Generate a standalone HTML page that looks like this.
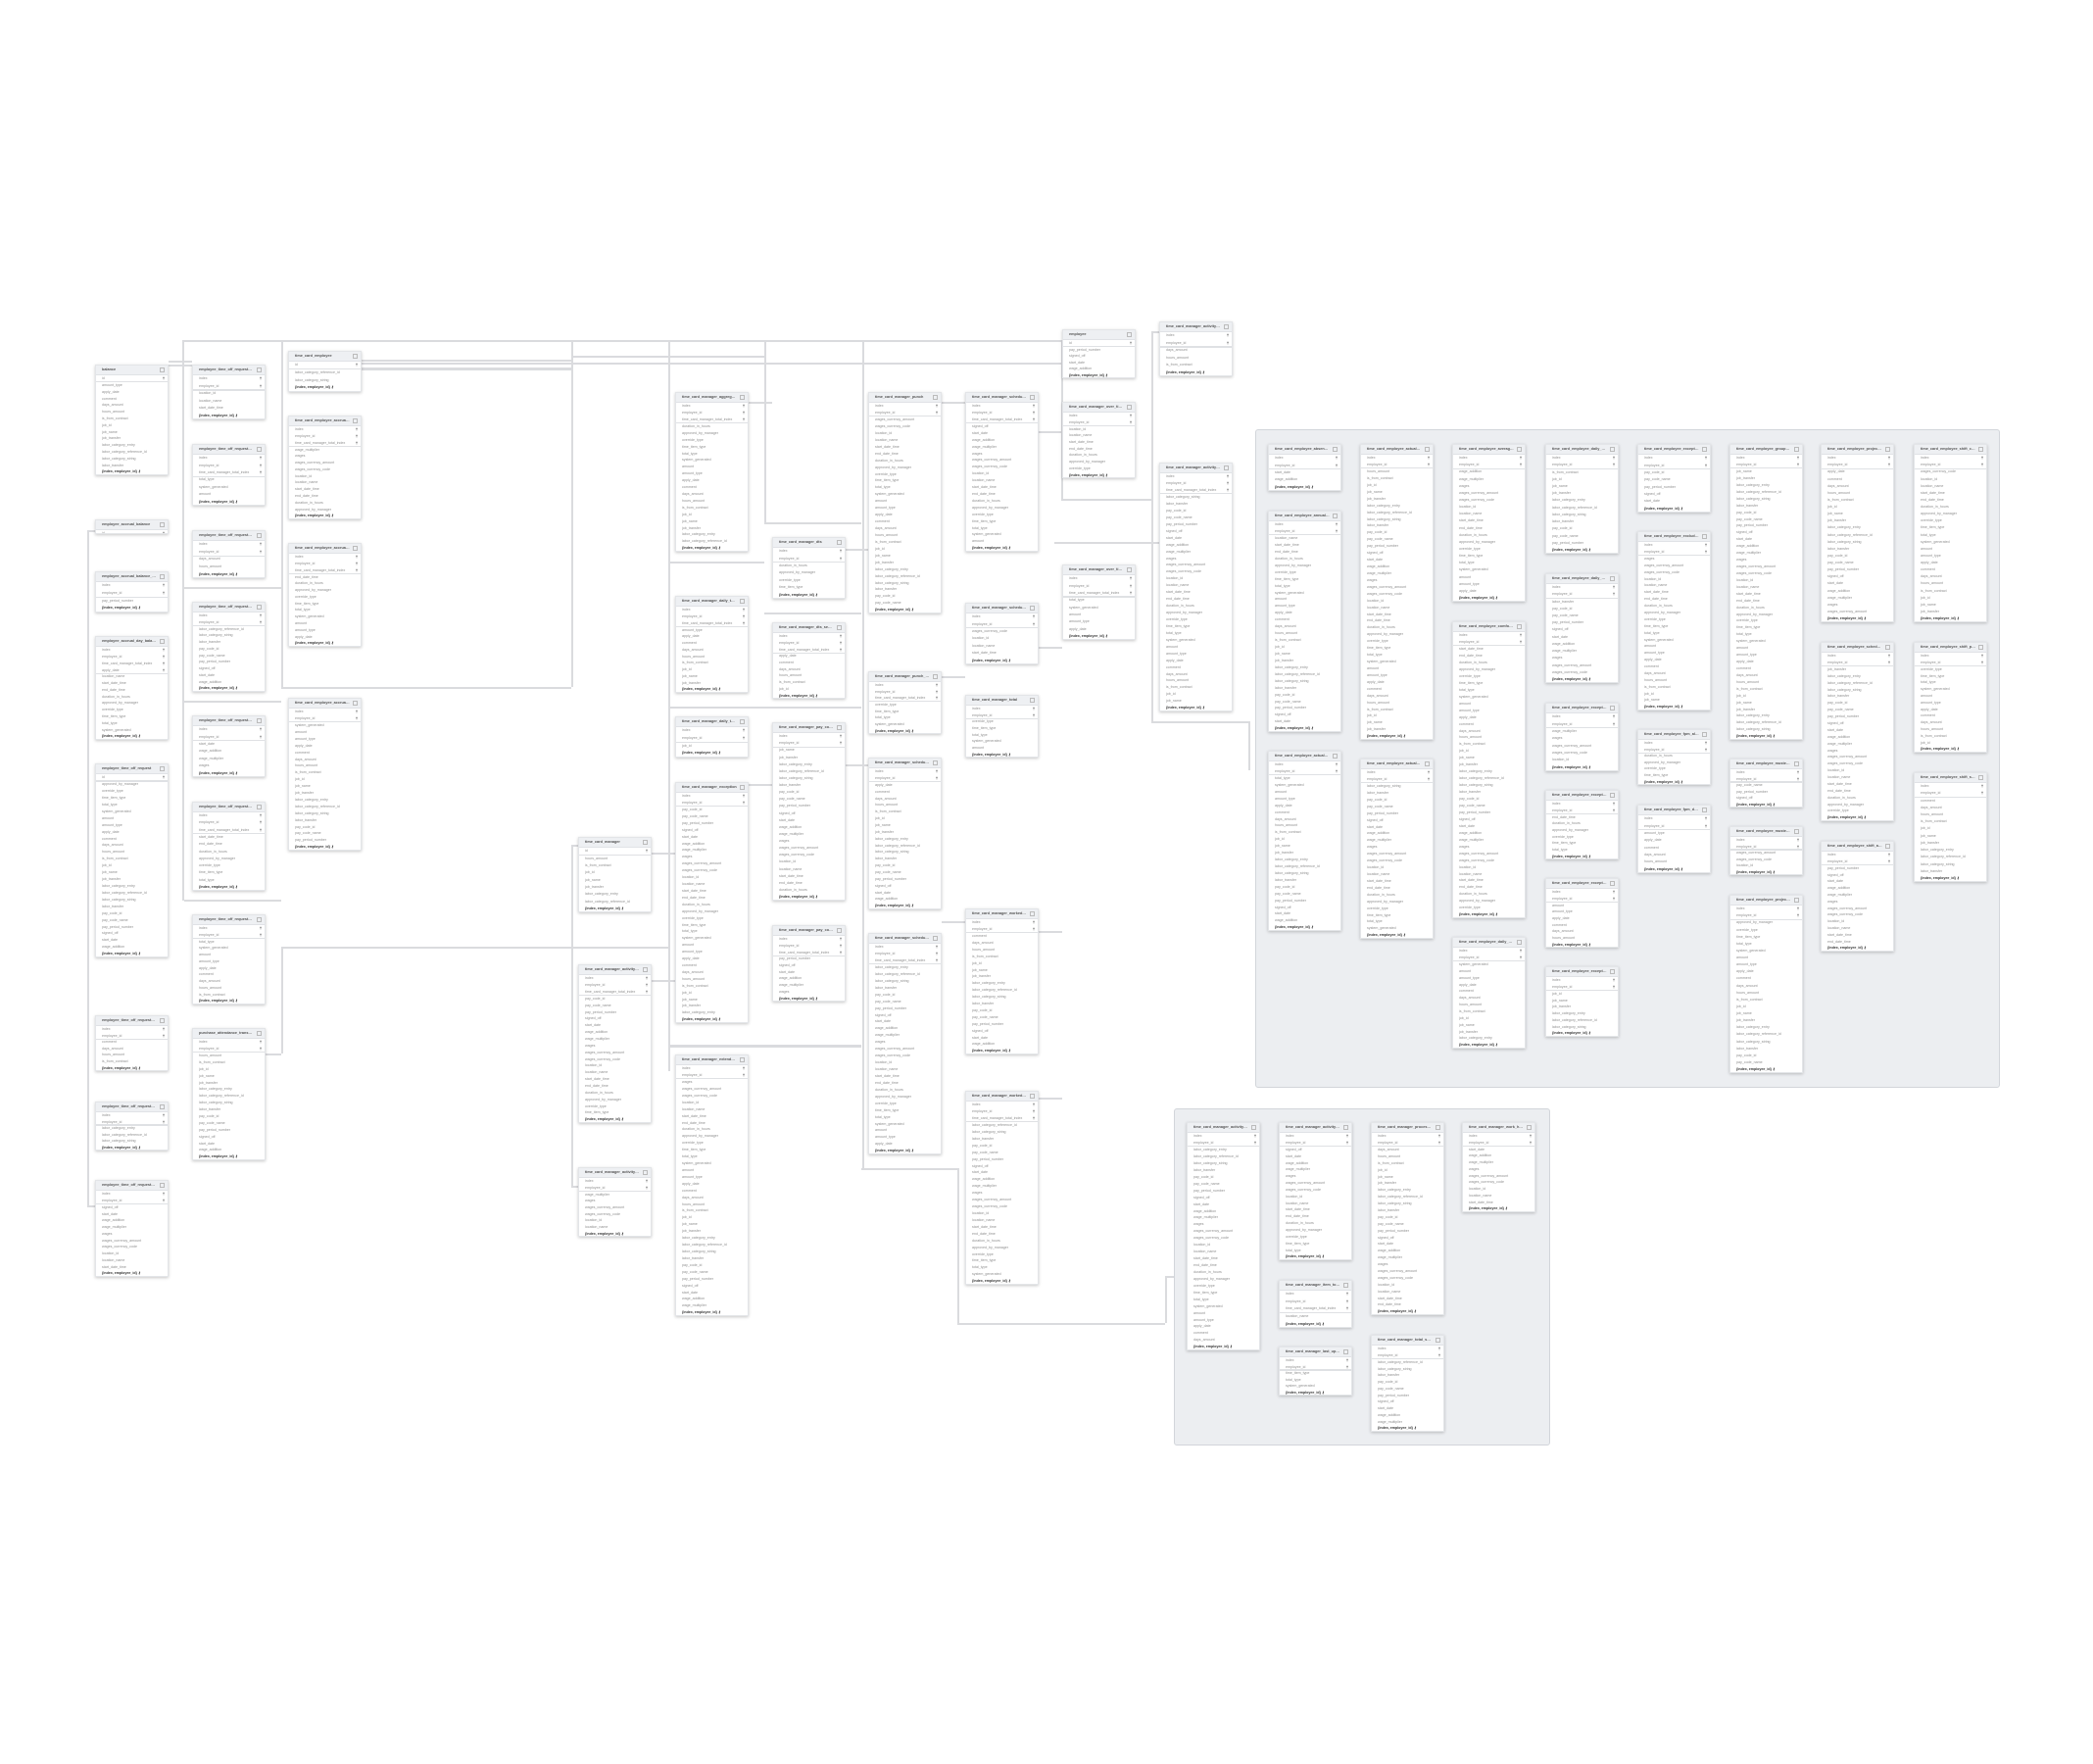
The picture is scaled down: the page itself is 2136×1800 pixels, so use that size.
<!DOCTYPE html>
<html><head><meta charset="utf-8">
<style>
html,body{margin:0;padding:0;background:#fff;}
body{width:2136px;height:1800px;position:relative;overflow:hidden;font-family:"Liberation Sans",sans-serif;}
.cont{position:absolute;background:#eceef1;border:1px solid #d2d5da;border-radius:3px;}
.ln{position:absolute;background:#dadbde;}
.t{position:absolute;background:#fff;box-shadow:0 1px 3px rgba(0,0,0,0.22);border:1px solid #e3e5e8;box-sizing:border-box;overflow:hidden;}
.hd{position:absolute;left:0;right:0;top:0;height:9px;background:#eef0f3;border-bottom:1px solid #e0e2e6;}
.hd span{position:absolute;left:6px;right:11px;top:2.4px;font-size:3.8px;font-weight:bold;color:#555;white-space:nowrap;overflow:hidden;text-overflow:ellipsis;}
.ic{position:absolute;right:3px;top:1.5px;width:5px;height:5px;border:0.8px solid #bbb;box-sizing:border-box;}
.r{position:absolute;left:6px;right:3px;font-size:3.6px;color:#909090;white-space:nowrap;overflow:hidden;}
.r b{position:absolute;right:0;top:0;color:#222;font-weight:bold;}
.r.ix{color:#333;font-weight:bold;}
.dv{position:absolute;left:0;right:0;height:1.2px;background:#dfe1e4;}
</style></head><body>
<div class="cont" style="left:1281px;top:438px;width:758px;height:670px"></div>
<div class="cont" style="left:1198px;top:1131px;width:382px;height:342px"></div>
<div id="lines"></div>
<div id="tables"></div>
<script>
var L=[
[186,347,897,2],[186,347,2,572],[287,347,2,354],[583,347,2,354],[682,347,2,746],[780,347,2,186],[880,347,2,846],[1083,347,2,163],
[583,363,197,2],[369,367,214,2],[369,370,714,2],[369,375,214,3],[172,368,24,2],[172,372,24,2],
[188,599,99,2],[188,715,99,2],[188,918,99,2],[287,701,296,2],[89,541,2,690],[89,541,8,2],[89,1230,8,2],
[287,966,395,2],[287,966,2,109],[271,1075,16,2],[583,862,2,348],[583,862,7,2],[583,1210,7,2],
[780,533,99,2],[682,573,98,2],[780,625,99,2],[682,721,197,2],[682,1066,197,3],[879,1192,98,2],[977,1192,2,158],[977,1350,212,2],[1189,1302,2,48],[1189,1302,9,2],
[1083,509,92,2],[1175,338,2,398],[1175,338,8,2],[1175,736,99,2],[1274,736,2,50],[1076,553,107,2],[1060,440,24,2],[1060,660,24,2],
[764,410,24,2],[862,560,24,2],[961,410,24,2],[961,690,24,2],[764,800,24,2],[862,780,24,2],[961,940,24,2],[665,870,24,2],[665,1000,24,2],[1060,950,24,2],[1060,1120,24,2]
];
var h='';L.forEach(function(a){h+='<div class="ln" style="left:'+a[0]+'px;top:'+a[1]+'px;width:'+a[2]+'px;height:'+a[3]+'px"></div>';});
document.getElementById('lines').innerHTML=h;
var T=[
["balance",97,372,485,1],["employee_accrual_balance",97,530,545,1],["employee_accrual_balance_balance",97,583,625,2],["employee_accrual_day_balance",97,649,755,4],["employee_time_off_request",97,779,977,1],["employee_time_off_request_approval_...",97,1036,1093,2],["employee_time_off_request_approval_...",97,1124,1174,2],["employee_time_off_request_approval_...",97,1204,1303,2],
["employee_time_off_request_comment",196,372,428,2],["employee_time_off_request_comment...",196,453,516,3],["employee_time_off_request_cost_sub...",196,541,590,2],["employee_time_off_request_period",196,614,706,2],["employee_time_off_request_position_...",196,730,793,2],["employee_time_off_request_position_...",196,818,909,3],["employee_time_off_request_request_s...",196,933,1025,2],["purchase_attendance_transaction",196,1049,1184,2],
["time_card_employee",294,358,400,1],["time_card_employee_accrual_daily_ac...",294,424,530,3],["time_card_employee_accrual_reportin...",294,554,660,3],["time_card_employee_accrual_summary",294,712,868,2],
["time_card_manager",590,854,931,1],["time_card_manager_activity_aggregat...",590,984,1146,3],["time_card_manager_activity_total",590,1191,1262,2],
["time_card_manager_aggregated_total",689,400,563,3],["time_card_manager_daily_total_hours...",689,608,707,3],["time_card_manager_daily_total_summ...",689,731,773,2],["time_card_manager_exception",689,798,1044,2],["time_card_manager_extended_excepti...",689,1076,1343,2],
["time_card_manager_dts",788,548,611,2],["time_card_manager_dts_segment",788,635,713,3],["time_card_manager_pay_code_edit",788,737,919,2],["time_card_manager_pay_code_edit_so...",788,944,1022,3],
["time_card_manager_punch",886,400,626,2],["time_card_manager_punch_comment_...",886,685,749,3],["time_card_manager_schedule_shift",886,773,928,2],["time_card_manager_schedule_shift_s...",886,952,1178,3],
["time_card_manager_scheduled_aggre...",985,400,563,3],["time_card_manager_scheduled_total",985,615,678,2],["time_card_manager_total",985,709,773,2],["time_card_manager_worked_shift",985,927,1076,2],["time_card_manager_worked_shift_an...",985,1113,1311,3],
["employee",1084,336,386,1],["time_card_manager_over_time_info",1084,410,488,2],["time_card_manager_over_time_info_s...",1084,576,653,3],
["time_card_manager_activity_shift",1183,328,384,2],["time_card_manager_activity_shift_an...",1183,472,726,3],
["time_card_employee_absence_excepti...",1294,453,501,2],["time_card_employee_annual_transacti...",1294,521,747,2],["time_card_employee_actual_total",1294,766,950,2],
["time_card_employee_actual_total_hour...",1388,453,755,2],["time_card_employee_actual_total_part...",1388,774,958,2],
["time_card_employee_averaging",1482,453,614,2],["time_card_employee_comfort_total",1482,634,937,2],["time_card_employee_daily_actual_time...",1482,956,1070,2],
["time_card_employee_daily_projected_t...",1577,453,565,2],["time_card_employee_daily_scheduled_...",1577,585,697,2],["time_card_employee_exception_count",1577,717,787,2],["time_card_employee_exception_count...",1577,806,877,2],["time_card_employee_exception_count...",1577,896,967,2],["time_card_employee_exception_count...",1577,986,1058,2],
["time_card_employee_exception_count...",1671,453,523,2],["time_card_employee_exclude_consoli...",1671,542,725,2],["time_card_employee_fpm_all_data",1671,744,801,2],["time_card_employee_fpm_data",1671,821,891,2],
["time_card_employee_grouped_hours_t...",1765,453,755,2],["time_card_employee_muster_report_d...",1765,774,824,2],["time_card_employee_muster_report_i...",1765,843,893,2],["time_card_employee_project_total_cor...",1765,913,1095,2],
["time_card_employee_projected_total",1858,453,635,2],["time_card_employee_scheduled_total",1858,655,838,2],["time_card_employee_shift_actual_tim...",1858,858,971,2],
["time_card_employee_shift_contract_to...",1953,453,635,2],["time_card_employee_shift_projected_t...",1953,655,768,2],["time_card_employee_shift_scheduled_...",1953,788,900,2],
["time_card_manager_activity_segment",1211,1145,1378,2],["time_card_manager_activity_team_ma...",1305,1145,1286,2],["time_card_manager_item_total_summ...",1305,1306,1355,3],["time_card_manager_last_update",1305,1374,1424,2],["time_card_manager_processed_segm...",1399,1145,1342,2],["time_card_manager_total_summary",1399,1362,1461,2],["time_card_manager_work_holiday_cre...",1492,1145,1237,2]
];
var K=["index","employee_id","time_card_manager_total_index","apply_date"];
var P=["amount","amount_type","apply_date","comment","days_amount","hours_amount","is_from_contract","job_id","job_name","job_transfer","labor_category_entry","labor_category_reference_id","labor_category_string","labor_transfer","pay_code_id","pay_code_name","pay_period_number","signed_off","start_date","wage_addition","wage_multiplier","wages","wages_currency_amount","wages_currency_code","location_id","location_name","start_date_time","end_date_time","duration_in_hours","approved_by_manager","override_type","time_item_type","total_type","system_generated"];
var s='',seed=0;
T.forEach(function(t){
 var x=t[1],y=t[2],hh=t[3]-t[2],k=t[4],w=75;
 var n=Math.max(1,Math.round((hh-11)/7)),rh=(hh-11)/n;
 s+='<div class="t" style="left:'+x+'px;top:'+y+'px;width:'+w+'px;height:'+hh+'px"><div class="hd"><span>'+t[0]+'</span><i class="ic"></i></div>';
 for(var i=0;i<n;i++){
  var ty=10+i*rh+1.2;
  if(i==k&&n>k)s+='<div class="dv" style="top:'+(10+i*rh-0.6)+'px"></div>';
  if(i<k){s+='<div class="r" style="top:'+ty+'px">'+(i==0&&k==1?'id':K[i%K.length])+'<b>&#8224;</b></div>';}
  else if(i==n-1&&n>k+1){s+='<div class="r ix" style="top:'+ty+'px">{index, employee_id} &#9911;</div>';}
  else{s+='<div class="r" style="top:'+ty+'px">'+P[(seed+i)%P.length]+'</div>';}
 }
 seed+=7;
 s+='</div>';
});
document.getElementById('tables').innerHTML=s;
</script>
</body></html>
